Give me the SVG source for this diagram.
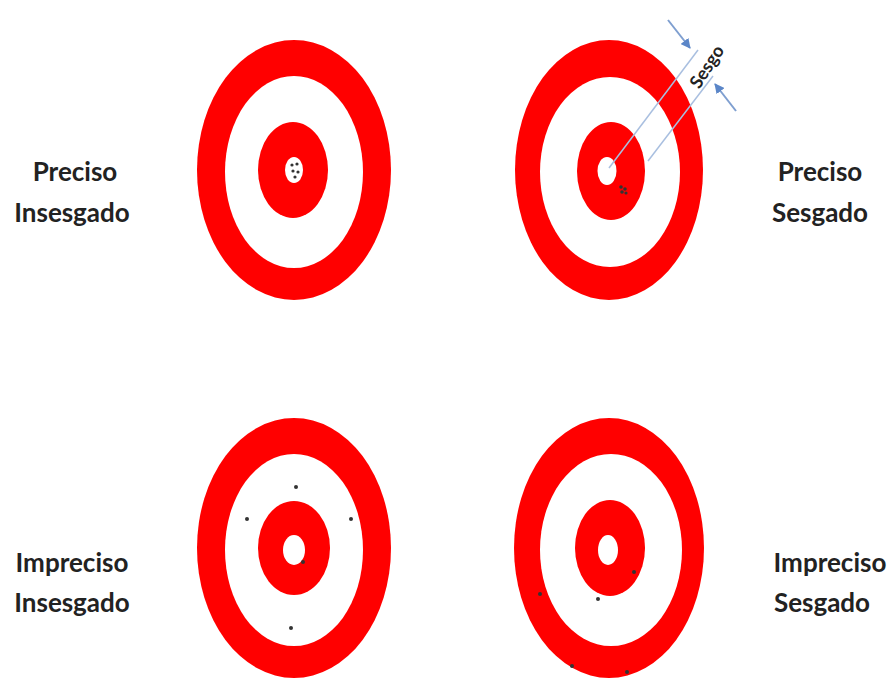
<svg xmlns="http://www.w3.org/2000/svg" width="894" height="680" viewBox="0 0 894 680">
<defs>
<style>
.red{fill:#ff0000}
.wht{fill:#ffffff}
.dot{fill:#333333}
.lbl{font-family:Lato,"Liberation Sans",sans-serif;font-weight:bold;font-size:26px;fill:#222222;text-anchor:middle}
.dim{stroke:#a9bfe0;stroke-width:1.5;fill:none}
.arr{stroke:#7f9fd0;stroke-width:2;fill:none}
</style>
<marker id="ah" viewBox="0 0 10 10" refX="9" refY="5" markerWidth="5" markerHeight="5" orient="auto">
<path d="M0,0 L10,5 L0,10 z" fill="#5b86c8"/>
</marker>
</defs>
<rect width="894" height="680" fill="#ffffff"/>

<g id="target-preciso-insesgado">
<ellipse class="red" cx="294" cy="170" rx="97" ry="130"/>
<ellipse class="wht" cx="294" cy="172" rx="69" ry="96"/>
<ellipse class="red" cx="293" cy="170" rx="35" ry="48"/>
<ellipse class="wht" cx="294" cy="170" rx="9" ry="13"/>
<circle class="dot" cx="292" cy="165" r="1.6"/>
<circle class="dot" cx="297" cy="164" r="1.6"/>
<circle class="dot" cx="293" cy="171" r="1.6"/>
<circle class="dot" cx="298" cy="172" r="1.6"/>
<circle class="dot" cx="295" cy="177" r="1.6"/>
</g>

<g id="target-preciso-sesgado">
<ellipse class="red" cx="609" cy="170" rx="94" ry="130"/>
<ellipse class="wht" cx="610" cy="172" rx="70" ry="95"/>
<ellipse class="red" cx="611" cy="171" rx="34" ry="49"/>
<ellipse class="wht" cx="607" cy="171" rx="9.5" ry="14"/>
<circle class="dot" cx="621" cy="187" r="1.8"/>
<circle class="dot" cx="625" cy="189" r="1.8"/>
<circle class="dot" cx="622" cy="192" r="1.8"/>
<circle class="dot" cx="626" cy="193" r="1.6"/>
</g>

<g id="target-impreciso-insesgado">
<ellipse class="red" cx="294" cy="548" rx="97" ry="130"/>
<ellipse class="wht" cx="294" cy="550" rx="69" ry="96"/>
<ellipse class="red" cx="294" cy="548" rx="36" ry="47"/>
<ellipse class="wht" cx="294" cy="550" rx="11" ry="15"/>
<circle class="dot" cx="296" cy="487" r="2"/>
<circle class="dot" cx="247" cy="519" r="2"/>
<circle class="dot" cx="351" cy="519" r="2"/>
<circle class="dot" cx="291" cy="628" r="2"/>
<circle class="dot" cx="303" cy="562" r="2"/>
</g>

<g id="target-impreciso-sesgado">
<ellipse class="red" cx="609" cy="548" rx="95" ry="130"/>
<ellipse class="wht" cx="611" cy="550" rx="71" ry="96"/>
<ellipse class="red" cx="610" cy="548" rx="35" ry="48"/>
<ellipse class="wht" cx="608" cy="550" rx="10" ry="15"/>
<circle class="dot" cx="634" cy="572" r="2"/>
<circle class="dot" cx="598" cy="599" r="2"/>
<circle class="dot" cx="540" cy="594" r="2"/>
<circle class="dot" cx="572" cy="666" r="2"/>
<circle class="dot" cx="627" cy="672" r="2"/>
</g>

<g id="connectors">
<line class="dim" x1="609" y1="168" x2="698" y2="50"/>
<line class="dim" x1="648" y1="161" x2="713" y2="76"/>
<line class="arr" x1="668" y1="20" x2="690" y2="48" marker-end="url(#ah)"/>
<line class="arr" x1="736" y1="111" x2="715" y2="84" marker-end="url(#ah)"/>
</g>

<g id="label-sesgo">
<text x="0" y="0" transform="translate(712,70) rotate(-57)" style="font-family:Lato,'Liberation Sans',sans-serif;font-size:18px;font-weight:bold;fill:#222222;text-anchor:middle">Sesgo</text>
</g>

<g id="label-preciso-insesgado">
<text class="lbl" x="75" y="181">Preciso</text>
<text class="lbl" x="72" y="222">Insesgado</text>
</g>
<g id="label-preciso-sesgado">
<text class="lbl" x="820" y="181">Preciso</text>
<text class="lbl" x="820" y="222">Sesgado</text>
</g>
<g id="label-impreciso-insesgado">
<text class="lbl" x="72" y="572">Impreciso</text>
<text class="lbl" x="72" y="612">Insesgado</text>
</g>
<g id="label-impreciso-sesgado">
<text class="lbl" x="830" y="572">Impreciso</text>
<text class="lbl" x="822" y="612">Sesgado</text>
</g>
</svg>
